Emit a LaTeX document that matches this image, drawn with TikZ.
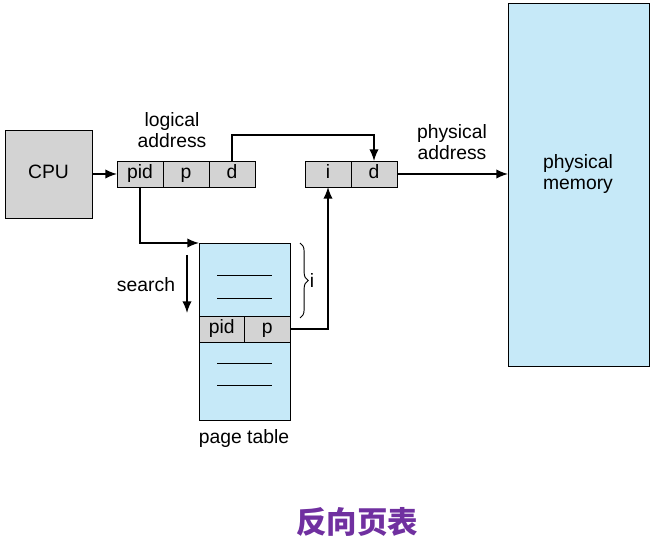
\documentclass[tikz,border=0pt]{standalone}
\usepackage{fontspec}
\setmainfont{Liberation Sans}
\newfontfamily\cjk{Noto Sans CJK SC}
\usetikzlibrary{positioning,decorations.pathreplacing,arrows.meta}
\definecolor{cellgray}{HTML}{D3D3D3}
\definecolor{tblblue}{HTML}{C6E9F8}
\definecolor{titlepurple}{HTML}{7030A0}
\tikzset{
  cell/.style={draw, fill=cellgray, line width=0.8pt, minimum width=1.38cm,
               minimum height=0.78cm, inner sep=0pt, outer sep=0pt,
               text height=11.5pt, text depth=3.5pt},
  bluebox/.style={draw, fill=tblblue, line width=0.8pt, inner sep=0pt, outer sep=0pt},
  lbl/.style={align=center, inner sep=0pt},
  link/.style={-{Latex[length=10pt,width=8pt]}, line width=1.3pt},
}
\begin{document}
\begin{tikzpicture}[x=0.03cm, y=-0.03cm,
                    font=\fontsize{16.5}{18.5}\selectfont]
  \useasboundingbox (0,0) rectangle (669,543);

  \node (cpu) [cell, minimum width=2.61cm, minimum height=2.64cm] at (48.5,174) {CPU};

  % logical address
  \node (pid) [cell]              at (140,174) {pid};
  \node (p)   [cell, right=0pt of pid] {p};
  \node (d)   [cell, right=0pt of p]   {d};
  \node (la)  [lbl] at (172,130) {logical\\address};

  % physical address
  \node (i)   [cell]              at (328,174) {i};
  \node (pd)  [cell, right=0pt of i]   {d};
  \node (pa)  [lbl] at (452,142) {physical\\address};

  \node (mem) [bluebox, minimum width=4.23cm, minimum height=10.89cm] at (578.5,184.5) {};
  \node (memtxt) [lbl] at (578,174) {physical\\memory};

  % page table
  \node (tbl) [bluebox, minimum width=2.73cm, minimum height=5.31cm] at (244.5,331.5) {};
  \node (tpid) [cell, minimum width=1.365cm] at (221.75,329) {pid};
  \node (tp)   [cell, minimum width=1.365cm, right=0pt of tpid] {p};
  \draw [line width=0.8pt] (217,275) -- (272,275);
  \draw [line width=0.8pt] (217,298) -- (272,298);
  \draw [line width=0.8pt] (217,363) -- (272,363);
  \draw [line width=0.8pt] (217,385) -- (272,385);
  \node (tl)  [lbl] at (244,439) {page table};

  \coordinate (s1) at (187,255);
  \coordinate (s2) at (187,313);
  \node (srch) [lbl] at (146,285) {search};
  \draw [decorate, decoration={brace, amplitude=7pt}, line width=0.8pt]
        (300,243) -- (300,318) node (idx) [midway, right=8pt, inner sep=0pt] {i};

  \draw [link] (cpu) -- (pid);
  \draw [link] (d.north) -- ++(0,-26) -| (pd.north);
  \draw [link] (pd.east) -- (pd.east -| mem.west);
  \draw [link] (pid.south) |- (tbl.north west);
  \draw [link] (tp.east) -| (i.south);
  \draw [link] (s1) -- (s2);

  \node (title) [text=titlepurple, font=\cjk\bfseries\fontsize{26}{30}\selectfont] at (357,522) {反向页表};
\end{tikzpicture}
\end{document}
